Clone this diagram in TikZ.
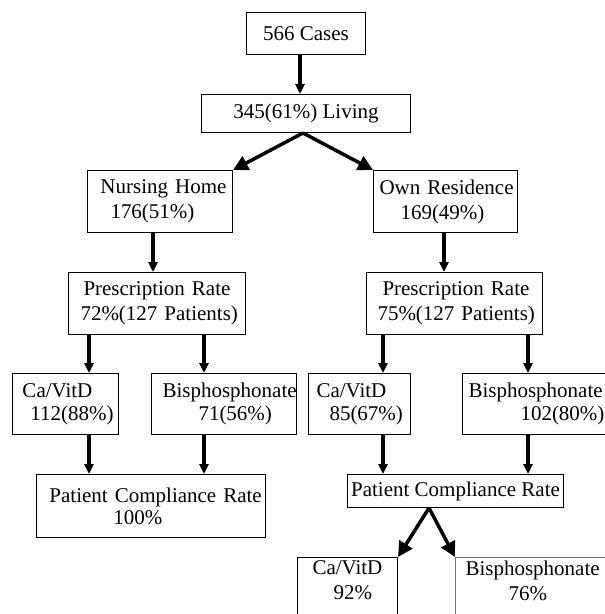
\documentclass[tikz,border=0pt]{standalone}
\usepackage{fontspec}
\setmainfont{Liberation Serif}
\usetikzlibrary{arrows.meta}
\newcommand{\bxl}[2]{\hspace*{#1pt}\mbox{#2}}
\begin{document}
\begin{tikzpicture}[x=1pt,y=-1pt,
  box/.style={draw, line width=1pt, inner sep=0pt, anchor=north west,
    font=\fontsize{21}{25}\selectfont},
  mbox/.style={box, align=left},
  varr/.style={line width=3.5pt, -{Triangle[length=10pt,width=9pt]}},
  darr/.style={line width=3.5pt, -{Triangle[length=15pt,width=15pt]}}]
\path[use as bounding box, fill=white] (0,0) rectangle (605,614);
\clip (0,0) rectangle (605,614);

\node[box, minimum width=119pt, minimum height=42pt] (cases) at (246,12) {566 Cases};
\node[box, minimum width=209pt, minimum height=38pt] (lv) at (201,94) {345(61\%) Living};

\node[mbox, text width=145pt, minimum height=62pt] (nh) at (87,170)
  {\bxl{13}{Nursing Home}\\\bxl{23}{176(51\%)}};
\node[mbox, text width=144pt, minimum height=62pt] (orr) at (373,170)
  {\bxl{6}{Own Residence}\\\bxl{27}{169(49\%)}};

\node[mbox, text width=177pt, minimum height=62pt] (pl) at (68,272)
  {\bxl{15}{Prescription Rate}\\\bxl{12}{72\%(127 Patients)}};
\node[mbox, text width=176pt, minimum height=62pt] (pr) at (366,272)
  {\bxl{16}{Prescription Rate}\\\bxl{11}{75\%(127 Patients)}};

\node[mbox, text width=106pt, minimum height=61pt, font=\fontsize{21}{23}\selectfont] (cal) at (12,373)
  {\bxl{10}{Ca/VitD}\\\bxl{18}{112(88\%)}};
\node[mbox, text width=145pt, minimum height=61pt, font=\fontsize{21}{23}\selectfont] (bil) at (151,373)
  {\bxl{11}{Bisphosphonate}\\\bxl{47}{71(56\%)}};
\node[mbox, text width=102pt, minimum height=61pt, font=\fontsize{21}{23}\selectfont] (car) at (308,373)
  {\bxl{8}{Ca/VitD}\\\bxl{21}{85(67\%)}};
\node[mbox, text width=150pt, minimum height=61pt, font=\fontsize{21}{23}\selectfont] (bir) at (462,373)
  {\bxl{6}{Bisphosphonate}\\\bxl{58}{102(80\%)}};

\node[mbox, text width=229pt, minimum height=63pt, font=\fontsize{21}{22}\selectfont] (pcl) at (36,474)
  {\bxl{13}{Patient Compliance Rate}\\\bxl{77}{100\%}};
\node[box, minimum width=216pt, minimum height=33pt] (pcr) at (347,474) {Patient Compliance Rate};

\node[mbox, text width=100pt, inner ysep=3pt] (cab) at (297,557)
  {\bxl{15}{Ca/VitD}\\\bxl{36}{92\%}\rule[-40pt]{0pt}{40pt}};
\node[mbox, text width=160pt, inner ysep=3pt, draw=black!55] (bib) at (455,557)
  {\bxl{10}{Bisphosphonate}\\\bxl{53}{76\%}\rule[-40pt]{0pt}{40pt}};

\draw[varr] (cases.south -| 300,0) -- (lv.north -| 300,0);
\draw[darr] (lv.south -| 303,0) -- (nh.north east);
\draw[darr] (lv.south -| 303,0) -- (orr.north west);
\draw[varr] (nh.south -| 153,0) -- (pl.north -| 153,0);
\draw[varr] (orr.south -| 444,0) -- (pr.north -| 444,0);
\draw[varr] (pl.south -| 89,0) -- (cal.north -| 89,0);
\draw[varr] (pl.south -| 204,0) -- (bil.north -| 204,0);
\draw[varr] (pr.south -| 383,0) -- (car.north -| 383,0);
\draw[varr] (pr.south -| 528,0) -- (bir.north -| 528,0);
\draw[varr] (cal.south -| 89,0) -- (pcl.north -| 89,0);
\draw[varr] (bil.south -| 204,0) -- (pcl.north -| 204,0);
\draw[varr] (car.south -| 383,0) -- (pcr.north -| 383,0);
\draw[varr] (bir.south -| 528,0) -- (pcr.north -| 528,0);
\draw[darr] (pcr.south -| 429,0) -- (cab.north east);
\draw[darr] (pcr.south -| 429,0) -- (bib.north west);
\end{tikzpicture}
\end{document}
